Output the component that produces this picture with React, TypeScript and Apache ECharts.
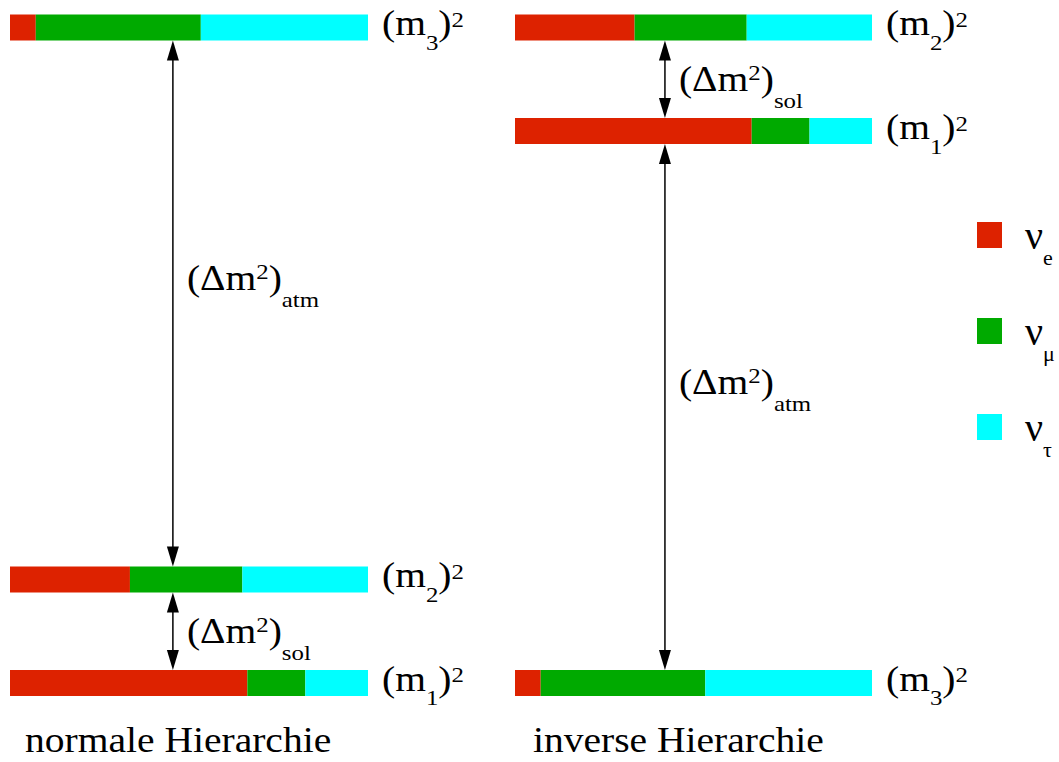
import React, { useEffect, useRef } from 'react';
import * as echarts from 'echarts';

// ---- data ----
const flavors = ['νe', 'νμ', 'ντ'];
const flavorColors = ['#DD2200', '#00AA00', '#00FFFF'];
const massStates = ['1', '2', '3'];
// flavour content of the mass states m1, m2, m3
const nuE = [0.663, 0.335, 0.072];
const nuMu = [0.162, 0.314, 0.461];
const nuTau = [0.175, 0.351, 0.467];
// squared-mass levels of m1, m2, m3 (units of (Δm²)sol)
const normalLevels = [0, 1, 6.33];
const invertedLevels = [5.33, 6.33, 0];
const hierarchyTitles = ['normale Hierarchie', 'inverse Hierarchie'];
const gapNames = ['atm', 'sol'];
// splittings as [name index, lower state index, upper state index]
const normalGaps = [[0, 1, 2], [1, 0, 1]];
const invertedGaps = [[1, 0, 1], [0, 2, 0]];

const SERIF = 'Liberation Serif';
const BAR_H = 26;
const HEAD_L = 20;
const HEAD_W = 12;
const SX = 1.13;

const compositions = [nuE, nuMu, nuTau];

const richStyles = {
  a: { fontSize: 35, fontFamily: SERIF, lineHeight: 70, fill: '#000' },
  b: { fontSize: 22, fontFamily: SERIF, padding: [38, 0, 0, 0], fill: '#000' },
  s: { fontSize: 22, fontFamily: SERIF, padding: [42, 0, 0, 0], fill: '#000' },
  c: { fontSize: 22, fontFamily: SERIF, padding: [0, 0, 8, 0], fill: '#000' },
  p: { fontSize: 22, fontFamily: SERIF, padding: [0, 0, 14, 0], fill: '#000' },
};

function buildOption() {
  const hierarchies = [
    { levels: normalLevels, gaps: normalGaps, arrowX: 0.455 },
    { levels: invertedLevels, gaps: invertedGaps, arrowX: 0.42 },
  ];
  const series: any[] = [];
  hierarchies.forEach((h, g) => {
    flavors.forEach((fl, f) => {
      const data = massStates.map((_, i) => {
        const total = compositions.reduce((s, c) => s + c[i], 0);
        let start = 0;
        for (let k = 0; k < f; k++) start += compositions[k][i];
        return [start / total, (start + compositions[f][i]) / total, h.levels[i]];
      });
      series.push({
        type: 'custom',
        name: fl,
        xAxisIndex: g,
        yAxisIndex: g,
        itemStyle: { color: flavorColors[f] },
        encode: { x: [0, 1], y: 2 },
        data,
        renderItem: (params: any, api: any) => {
          const a = api.coord([api.value(0), api.value(2)]);
          const b = api.coord([api.value(1), api.value(2)]);
          return {
            type: 'rect',
            shape: { x: a[0], y: a[1] - BAR_H / 2, width: b[0] - a[0], height: BAR_H },
            style: { fill: flavorColors[f] },
          };
        },
      });
    });
    // mass labels
    series.push({
      type: 'custom',
      name: 'labels' + g,
      xAxisIndex: g,
      yAxisIndex: g,
      encode: { x: 0, y: 1 },
      data: h.levels.map((lv, i) => [1, lv, i]),
      renderItem: (params: any, api: any) => {
        const p = api.coord([1, api.value(1)]);
        const idx = api.value(2);
        return {
          type: 'text',
          x: p[0] + 14,
          y: p[1] - 4,
          scaleX: SX,
          style: {
            text: `{a|(m}{b|${massStates[idx]}}{a|)}{c|2}`,
            rich: richStyles,
            fill: '#000',
            fontFamily: SERIF,
            fontSize: 35,
            align: 'left',
            verticalAlign: 'middle',
          },
        };
      },
    });
    // splitting arrows
    series.push({
      type: 'custom',
      name: 'gaps' + g,
      xAxisIndex: g,
      yAxisIndex: g,
      encode: { x: 0, y: 1 },
      data: h.gaps.map((gp) => [h.levels[gp[1]], h.levels[gp[2]], gp[0]]),
      renderItem: (params: any, api: any) => {
        const lo = api.coord([h.arrowX, api.value(0)]);
        const hi = api.coord([h.arrowX, api.value(1)]);
        const x = lo[0];
        const top = hi[1] + BAR_H / 2;
        const bottom = lo[1] - BAR_H / 2;
        const name = gapNames[api.value(2)];
        const frac = name === 'atm' ? 0.545 : 0.5;
        const ly = lo[1] + (hi[1] - lo[1]) * frac;
        return {
          type: 'group',
          children: [
            {
              type: 'line',
              shape: { x1: x, y1: top + HEAD_L - 2, x2: x, y2: bottom - HEAD_L + 2 },
              style: { stroke: '#000', lineWidth: 1.5 },
            },
            {
              type: 'polygon',
              shape: { points: [[x, top], [x - HEAD_W / 2, top + HEAD_L], [x + HEAD_W / 2, top + HEAD_L]] },
              style: { fill: '#000' },
            },
            {
              type: 'polygon',
              shape: { points: [[x, bottom], [x - HEAD_W / 2, bottom - HEAD_L], [x + HEAD_W / 2, bottom - HEAD_L]] },
              style: { fill: '#000' },
            },
            {
              type: 'text',
              x: x + 14,
              y: ly,
              scaleX: SX,
              style: {
                text: `{a|(Δm}{p|2}{a|)}{s|${name}}`,
                rich: richStyles,
                fill: '#000',
                fontFamily: SERIF,
                fontSize: 35,
                align: 'left',
                verticalAlign: 'middle',
              },
            },
          ],
        };
      },
    });
  });

  const yMax = Math.max(...normalLevels, ...invertedLevels);
  return {
    animation: false,
    backgroundColor: '#fff',
    grid: [
      { left: 10, width: 358, top: 27.5, height: 655.5 },
      { left: 515, width: 357, top: 27.5, height: 655.5 },
    ],
    xAxis: [0, 1].map((g) => ({ type: 'value', gridIndex: g, min: 0, max: 1, show: false })),
    yAxis: [0, 1].map((g) => ({ type: 'value', gridIndex: g, min: 0, max: yMax, show: false })),
    legend: {
      data: flavors,
      orient: 'vertical',
      left: 972,
      top: 210,
      itemWidth: 25,
      itemHeight: 26,
      itemGap: 43,
      icon: 'rect',
      selectedMode: false,
      formatter: (n: string) => `{n|ν}{s|${n.slice(1)}}`,
      textStyle: {
        padding: [0, 0, 0, 18],
        fontFamily: SERIF,
        rich: {
          n: { fontSize: 40, fontFamily: SERIF, lineHeight: 70, color: '#000' },
          s: { fontSize: 22, fontFamily: SERIF, padding: [44, 0, 0, 0], color: '#000' },
        },
      },
    },
    graphic: hierarchyTitles.map((t, i) => ({
      type: 'text',
      x: i === 0 ? 25 : 533,
      y: 740,
      scaleX: SX,
      style: { text: t, fontFamily: SERIF, fontSize: 35, fill: '#000', verticalAlign: 'middle' },
    })),
    series,
  };
}

export default function App() {
  const ref = useRef<HTMLDivElement>(null);
  useEffect(() => {
    if (!ref.current) return;
    const chart = echarts.init(ref.current, undefined, { renderer: 'svg' });
    chart.setOption(buildOption() as any);
    return () => chart.dispose();
  }, []);
  return (
    <div
      ref={ref}
      style={{ position: 'fixed', left: 0, top: 0, width: 1059, height: 762, background: '#fff' }}
    />
  );
}
